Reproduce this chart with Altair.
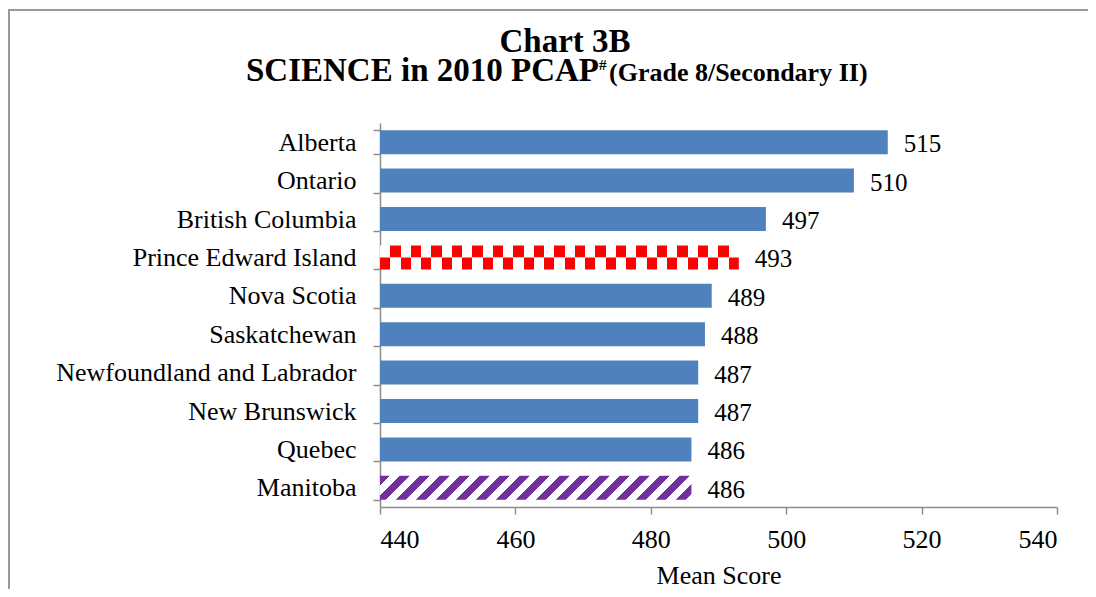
import altair as alt
import pandas as pd

# ---- data ----
regions = ["Alberta", "Ontario", "British Columbia", "Prince Edward Island",
           "Nova Scotia", "Saskatchewan", "Newfoundland and Labrador",
           "New Brunswick", "Quebec", "Manitoba"]
scores = [515, 510, 497, 493, 489, 488, 487, 487, 486, 486]
styles = ["solid", "solid", "solid", "checker", "solid",
          "solid", "solid", "solid", "solid", "stripes"]
x_ticks = [440, 460, 480, 500, 520, 540]

# ---- layout ----
X_MIN, X_MAX = 440, 540
W, H = 677, 384
PAD = {"left": 372, "top": 115, "right": 31, "bottom": 82}
PAD_IN = 0.375
STEP = H / len(regions)
BANDW = STEP * (1 - PAD_IN)
PX = W / (X_MAX - X_MIN)

FONT = "Liberation Serif"
BLUE = "#4F81BD"
RED = "#FF0000"
PURPLE = "#7030A0"
AXIS_GRAY = "#8C8C8C"

df = pd.DataFrame({"region": regions, "score": scores, "style": styles})
df["base"] = X_MIN


def checker_gradient(value, start_white):
    width = (value - X_MIN) * PX
    n = max(2, round(width / 10.25))
    stops = []
    for i in range(n):
        white = (i % 2 == 0) == start_white
        c = "#FFFFFF" if white else RED
        stops.append({"offset": i / n, "color": c})
        stops.append({"offset": (i + 1) / n, "color": c})
    return {"gradient": "linear", "x1": 0, "y1": 0, "x2": 1, "y2": 0, "stops": stops}


def stripe_gradient(value, period=20.0):
    w = (value - X_MIN) * PX
    h = BANDW
    r = h / w
    total = w + h
    k = total / (w * (1 + r * r))
    stops = []
    half = period / 2
    s = 0.0
    j = 0
    while s < total:
        c = PURPLE if j % 2 == 0 else "#FFFFFF"
        a = s / total
        b = min(1.0, (s + half) / total)
        stops.append({"offset": a, "color": c})
        stops.append({"offset": b, "color": c})
        s += half
        j += 1
    return {"gradient": "linear", "x1": 0, "y1": 0, "x2": k, "y2": k * r, "stops": stops}


pei_score = scores[styles.index("checker")]
man_score = scores[styles.index("stripes")]

y_enc = alt.Y(
    "region:N", sort=regions,
    scale=alt.Scale(paddingInner=PAD_IN, paddingOuter=PAD_IN / 2),
    axis=alt.Axis(title=None, tickBand="extent", tickSize=7, tickColor=AXIS_GRAY,
                  tickWidth=1.5, domainColor=AXIS_GRAY, domainWidth=1.5,
                  labelFont=FONT, labelFontSize=26, labelColor="black",
                  labelPadding=17, labelLimit=400, grid=False),
)
x_enc = alt.X(
    "score:Q",
    scale=alt.Scale(domain=[X_MIN, X_MAX], nice=False, zero=False),
    axis=alt.Axis(values=x_ticks, title="Mean Score", tickSize=7, tickColor=AXIS_GRAY,
                  tickWidth=1.5, domainColor=AXIS_GRAY, domainWidth=1.5,
                  labelFont=FONT, labelFontSize=26, labelColor="black",
                  labelPadding=12, grid=False,
                  titleFont=FONT, titleFontSize=26, titleFontWeight="normal",
                  titleColor="black", titleBaseline="alphabetic", titleY=76),
)

base = alt.Chart(df)

solid = base.transform_filter("datum.style == 'solid'").mark_bar(color=BLUE).encode(
    y=y_enc, x=x_enc, x2="base:Q")

pei = base.transform_filter("datum.style == 'checker'")
checker_top = pei.mark_bar(height=BANDW / 2, yOffset=-BANDW / 4,
                           fill=checker_gradient(pei_score, True)).encode(
    y=y_enc, x=x_enc, x2="base:Q")
checker_bot = pei.mark_bar(height=BANDW / 2, yOffset=BANDW / 4,
                           fill=checker_gradient(pei_score, False)).encode(
    y=y_enc, x=x_enc, x2="base:Q")

stripes = base.transform_filter("datum.style == 'stripes'").mark_bar(
    fill=stripe_gradient(man_score)).encode(y=y_enc, x=x_enc, x2="base:Q")

labels = base.mark_text(align="left", baseline="middle", dx=16, dy=2,
                        font=FONT, fontSize=25, color="black").encode(
    y=y_enc, x=x_enc, text="score:Q")

# frame (top and left edges of the outer border), kept inside the SVG
right_edge = W + PAD["right"]
bottom_edge = H + PAD["bottom"]
one = pd.DataFrame({"a": [0]})
frame_top = alt.Chart(one).mark_rule(stroke="#999999", strokeWidth=2).encode(
    x=alt.value(-PAD["left"]), x2=alt.value(right_edge), y=alt.value(-113))
frame_left = alt.Chart(one).mark_rule(stroke="#999999", strokeWidth=2).encode(
    x=alt.value(-PAD["left"] + 1), y=alt.value(-114), y2=alt.value(bottom_edge))

t1 = alt.Chart(one).mark_text(text="Chart 3B", font=FONT, fontSize=33, fontWeight="bold",
                              align="center", baseline="alphabetic", color="black").encode(
    x=alt.value(185), y=alt.value(-71))
t2 = alt.Chart(one).mark_text(text="SCIENCE in 2010 PCAP", font=FONT, fontSize=33,
                              fontWeight="bold", align="left", baseline="alphabetic",
                              color="black").encode(x=alt.value(-134), y=alt.value(-42))
t3 = alt.Chart(one).mark_text(text="#", font=FONT, fontSize=15, fontWeight="bold",
                              align="left", baseline="alphabetic", color="black").encode(
    x=alt.value(219), y=alt.value(-53))
t4 = alt.Chart(one).mark_text(text="(Grade 8/Secondary II)", font=FONT, fontSize=26,
                              fontWeight="bold", align="left", baseline="alphabetic",
                              color="black").encode(x=alt.value(229), y=alt.value(-42))

chart = alt.layer(frame_top, frame_left, solid, checker_top, checker_bot, stripes, labels,
                  t1, t2, t3, t4).properties(
    width=W, height=H,
    autosize=alt.AutoSizeParams(type="none"),
    padding=PAD,
).configure_view(stroke=None)

chart.save("out.html", embed_options={"renderer": "svg", "actions": False})
